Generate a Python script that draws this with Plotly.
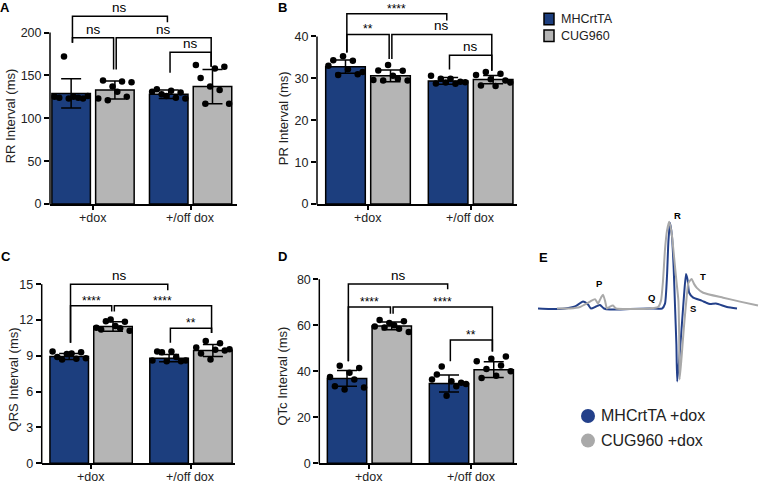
import plotly.graph_objects as go
import numpy as np

W, H = 759, 488
FONT = "Arial, 'Liberation Sans', Helvetica, sans-serif"
BLUE = "#1c3e7e"
GRAY = "#b5b5b5"
ECG_BLUE = "#23408a"
ECG_GRAY = "#a9a9a9"

# ---------------- data ----------------
group_labels = ["+dox", "+/off dox"]
genotypes = ["MHCrtTA", "CUG960"]
# bar order: MHCrtTA +dox, CUG960 +dox, MHCrtTA +/off dox, CUG960 +/off dox

rr_mean = [129, 133, 128, 137]
rr_sd = [17, 10.5, 5, 20]
rr_points = [
    [125, 124, 172, 123, 125, 124, 123, 126],
    [123, 144, 121, 137, 131, 143, 125, 142],
    [131, 134, 128, 126, 132, 124, 130, 123],
    [162, 147, 117, 137, 158, 133, 160, 117],
]
rr_ticks = [0, 50, 100, 150, 200]
rr_sig = [(0, 2, 219, 188, 212, "ns"), (0, 1, 194, 188, 157, "ns"),
          (1, 3, 194, 157, 160, "ns"), (2, 3, 177, 153, 160, "ns")]

pr_mean = [32.8, 30.6, 29.4, 29.7]
pr_sd = [1.6, 1.4, 0.8, 1.0]
pr_points = [
    [33.0, 34.3, 30.8, 35.3, 32.2, 34.2, 31.0, 31.5],
    [29.6, 31.9, 29.5, 33.2, 30.6, 29.9, 31.8, 29.5],
    [30.6, 28.8, 29.9, 29.0, 29.9, 28.7, 29.2, 29.1],
    [30.8, 28.3, 31.5, 29.8, 28.2, 31.1, 29.5, 29.0],
]
pr_ticks = [0, 10, 20, 30, 40]
pr_sig = [(0, 2, 45.4, 36.2, 43.8, "****"), (0, 1, 40.5, 36.2, 34.6, "**"),
          (1, 3, 40.5, 34.6, 31.8, "ns"), (2, 3, 35.5, 32.1, 31.8, "ns")]

qrs_mean = [8.95, 11.45, 8.8, 9.45]
qrs_sd = [0.25, 0.4, 0.3, 0.5]
qrs_points = [
    [9.35, 8.9, 8.7, 9.15, 9.2, 8.75, 9.3, 8.8],
    [11.35, 11.2, 11.9, 12.05, 11.5, 11.3, 11.85, 11.1],
    [8.6, 9.35, 9.3, 8.55, 9.35, 8.9, 8.55, 8.6],
    [9.7, 9.2, 10.25, 8.7, 9.5, 10.05, 9.45, 9.55],
]
qrs_ticks = [0, 3, 6, 9, 12, 15]
qrs_sig = [(0, 2, 15.0, 10.1, 14.5, "ns"), (0, 1, 13.2, 10.1, 12.7, "****"),
           (1, 3, 13.2, 12.7, 10.9, "****"), (2, 3, 11.3, 10.1, 10.9, "**")]

qtc_mean = [36.9, 59.7, 34.7, 40.7]
qtc_sd = [3.4, 1.7, 3.7, 3.4]
qtc_points = [
    [37.5, 33.5, 42.4, 32.1, 39.3, 36.4, 41.4, 32.9],
    [59.5, 62.3, 59.0, 61.0, 60.0, 58.5, 61.7, 57.1],
    [36.4, 38.6, 42.1, 29.3, 35.7, 33.5, 35.0, 34.5],
    [44.3, 37.1, 41.0, 45.4, 38.0, 42.5, 46.4, 40.0],
]
qtc_ticks = [0, 20, 40, 60, 80]
qtc_sig = [(0, 2, 77.9, 44.3, 75.7, "ns"), (0, 1, 67.9, 44.3, 65.0, "****"),
           (1, 3, 67.9, 65.0, 48.6, "****"), (2, 3, 53.6, 44.3, 48.6, "**")]

# ECG traces (time in ms, voltage in mV)
ecg_blue_t = [0, 3, 6.75, 9.25, 11.25, 12.5, 13.25, 14.5, 15.5, 16.5, 18, 23, 28, 31, 31.75, 32.25,
              32.6, 33, 33.5, 33.9, 34.25, 34.6, 34.8, 35.4, 35.9, 36.5, 37, 37.4, 37.8, 38.8,
              40.9, 42, 43, 44.5, 47.25, 49.75]
ecg_blue_v = [0, -0.005, 0, 0.02, 0.07, 0.04, 0, 0.02, 0.035, 0, -0.01, -0.005, 0, 0, 0.05, 0.33,
              0.68, 0.87, 0.73, 0.43, 0.03, -0.37, -0.74, -0.47, -0.20, 0.13, 0.35, 0.29, 0.16, 0.11,
              0.08, 0.06, 0.045, 0.05, 0.015, 0]
ecg_gray_t = [4.75, 8, 10.5, 13, 14.25, 15, 15.75, 16.25, 16.75, 17.25, 18, 18.75, 19.5, 23, 28, 30,
              30.75, 31.25, 31.75, 32.25, 32.8, 33.4, 34, 34.6, 35.1, 35.3, 35.4, 35.9, 36.5, 37.2,
              37.6, 38.4, 39, 39.7, 41.3, 46.3, 50.5, 55]
ecg_gray_v = [0, 0, 0.015, 0.07, 0.095, 0.05, 0.11, 0.14, 0.08, 0, 0.02, 0.03, 0, -0.005, 0, 0.015,
              0.08, 0.28, 0.60, 0.79, 0.88, 0.77, 0.53, 0.28, 0.08, -0.27, -0.72, -0.49, -0.18, 0.13,
              0.26, 0.30, 0.25, 0.21, 0.16, 0.11, 0.07, 0.03]
ecg_wave_labels = ["P", "Q", "R", "S", "T"]
ecg_wave_t = [15.25, 28.25, 34.75, 38.75, 41.25]
ecg_wave_v = [0.25, 0.11, 0.94, 0.0, 0.32]
ecg_legend = ["MHCrtTA +dox", "CUG960 +dox"]

# ---------------- layout helpers ----------------
panels = [
    dict(letter="A", mean=rr_mean, sd=rr_sd, pts=rr_points, ticks=rr_ticks, sig=rr_sig,
         title="RR Interval (ms)", xpx=(50, 237), ypx=(3, 207), top_px=33,
         pos=[0, 1, 2.23, 3.23], xr=(-0.483, 3.79), tpos=(10, 118), lpos=(5, 8)),
    dict(letter="B", mean=pr_mean, sd=pr_sd, pts=pr_points, ticks=pr_ticks, sig=pr_sig,
         title="PR Interval (ms)", xpx=(317, 517), ypx=(3, 207), top_px=37,
         pos=[0, 1, 2.28, 3.28], xr=(-0.633, 3.81), tpos=(283, 120), lpos=(282, 8)),
    dict(letter="C", mean=qrs_mean, sd=qrs_sd, pts=qrs_points, ticks=qrs_ticks, sig=qrs_sig,
         title="QRS Interval (ms)", xpx=(41.7, 235), ypx=(262, 470), top_px=288.3,
         pos=[0, 1, 2.28, 3.28], xr=(-0.628, 3.785), tpos=(13, 385), lpos=(6, 260)),
    dict(letter="D", mean=qtc_mean, sd=qtc_sd, pts=qtc_points, ticks=qtc_ticks, sig=qtc_sig,
         title="QTc Interval (ms)", xpx=(319.3, 517), ypx=(262, 470), top_px=283.3,
         pos=[0, 1, 2.28, 3.28], xr=(-0.62, 3.80), tpos=(283, 382), lpos=(282, 260)),
]


def px_x(px):
    return px / W


def px_y(py):
    return 1 - py / H


fig = go.Figure()
shapes = []
annotations = []
layout_axes = {}
offsets = np.linspace(-0.38, 0.38, 8)

for k, p in enumerate(panels):
    n = k + 1
    xa = "x" if n == 1 else f"x{n}"
    ya = "y" if n == 1 else f"y{n}"
    top_tick = p["ticks"][-1]
    ybot, ytopdom = p["ypx"][1], p["ypx"][0]
    yr_top = top_tick * (ybot - ytopdom) / (ybot - p["top_px"])
    pos = p["pos"]
    ydom = [px_y(ybot), px_y(ytopdom)]
    xdom = [px_x(p["xpx"][0]), px_x(p["xpx"][1])]

    for gi, (col, idx) in enumerate([(BLUE, [0, 2]), (GRAY, [1, 3])]):
        fig.add_trace(go.Bar(
            x=[pos[i] for i in idx], y=[p["mean"][i] for i in idx], width=0.88,
            marker=dict(color=col, line=dict(color="black", width=1.5)),
            error_y=dict(type="data", array=[p["sd"][i] for i in idx], color="black",
                         thickness=1.5, width=10),
            name=genotypes[gi], xaxis=xa, yaxis=ya, showlegend=False, hoverinfo="skip"))
    for i in range(4):
        fig.add_trace(go.Scatter(
            x=pos[i] + offsets[:len(p["pts"][i])], y=p["pts"][i], mode="markers",
            marker=dict(color="black", size=6.5), xaxis=xa, yaxis=ya,
            showlegend=False, hoverinfo="skip", cliponaxis=False))

    xkey = "xaxis" if n == 1 else f"xaxis{n}"
    ykey = "yaxis" if n == 1 else f"yaxis{n}"
    group_centers = [(pos[0] + pos[1]) / 2, (pos[2] + pos[3]) / 2]
    layout_axes[xkey] = dict(
        domain=xdom, range=list(p["xr"]), anchor=ya, showgrid=False, zeroline=False,
        showline=True, linecolor="black", linewidth=1.5, ticks="outside", ticklen=4,
        tickwidth=1.5, tickcolor="black", tickvals=group_centers, showticklabels=False,
        fixedrange=True)
    for gc, gl in zip(group_centers, group_labels):
        annotations.append(dict(x=gc, y=px_y(ybot + 5), xref=xa, yref="paper", text=gl,
                                showarrow=False, xanchor="center", yanchor="top",
                                font=dict(family=FONT, size=12.5, color="#222")))
    layout_axes[ykey] = dict(
        domain=ydom, range=[0, yr_top], anchor=xa, showgrid=False, zeroline=False,
        showline=False, ticks="outside", ticklen=5, tickwidth=1.5, tickcolor="black",
        tickvals=p["ticks"], ticktext=[str(t) for t in p["ticks"]],
        tickfont=dict(family=FONT, size=12.5, color="#222"), fixedrange=True)
    # y axis line only up to the top tick
    y_end = ydom[0] + (top_tick / yr_top) * (ydom[1] - ydom[0])
    shapes.append(dict(type="line", xref="paper", yref="paper", x0=xdom[0], x1=xdom[0],
                       y0=ydom[0] - 0.75 / H, y1=y_end, line=dict(color="black", width=1.5)))

    # significance brackets
    for (i1, i2, yy, d1, d2, lab) in p["sig"]:
        xl = pos[i1] + 0.03
        xrgt = pos[i2] - 0.03
        shapes.append(dict(type="path", xref=xa, yref=ya,
                           path=f"M {xl},{d1} L {xl},{yy} L {xrgt},{yy} L {xrgt},{d2}",
                           line=dict(color="black", width=1.5)))
        star = lab.startswith("*")
        annotations.append(dict(
            x=(pos[i1] + pos[i2]) / 2, y=yy, xref=xa, yref=ya, text=lab, showarrow=False,
            xanchor="center", yanchor="bottom", yshift=-4 if star else -1,
            font=dict(family=FONT, size=12 if star else 13.5, color="black")))

    annotations.append(dict(x=px_x(p["tpos"][0]), y=px_y(p["tpos"][1]), xref="paper", yref="paper",
                            text=p["title"], textangle=-90, showarrow=False,
                            xanchor="center", yanchor="middle",
                            font=dict(family=FONT, size=13, color="#222")))
    annotations.append(dict(x=px_x(p["lpos"][0]), y=px_y(p["lpos"][1]), xref="paper", yref="paper",
                            text=f"<b>{p['letter']}</b>", showarrow=False,
                            xanchor="center", yanchor="middle",
                            font=dict(family=FONT, size=13, color="black")))

# ECG panel E
fig.add_trace(go.Scatter(x=ecg_blue_t, y=ecg_blue_v, mode="lines", xaxis="x5", yaxis="y5",
                         line=dict(color=ECG_BLUE, width=2, shape="spline", smoothing=0.5),
                         showlegend=False, hoverinfo="skip"))
fig.add_trace(go.Scatter(x=ecg_gray_t, y=ecg_gray_v, mode="lines", xaxis="x5", yaxis="y5",
                         line=dict(color=ECG_GRAY, width=2, shape="spline", smoothing=0.5),
                         showlegend=False, hoverinfo="skip"))
layout_axes["xaxis5"] = dict(domain=[px_x(538), 1], range=[0, 55.25], visible=False,
                             anchor="y5", fixedrange=True)
layout_axes["yaxis5"] = dict(domain=[px_y(395), px_y(215)], range=[-0.82, 0.98], visible=False,
                             anchor="x5", fixedrange=True)
for lab, t, v in zip(ecg_wave_labels, ecg_wave_t, ecg_wave_v):
    annotations.append(dict(x=t, y=v, xref="x5", yref="y5", text=f"<b>{lab}</b>", showarrow=False,
                            xanchor="center", yanchor="middle",
                            font=dict(family=FONT, size=9.5, color="black")))
annotations.append(dict(x=px_x(543), y=px_y(261), xref="paper", yref="paper", text="<b>E</b>",
                        showarrow=False, xanchor="center", yanchor="middle",
                        font=dict(family=FONT, size=13, color="black")))

# ECG legend
for lab, col, cy in zip(ecg_legend, [ECG_BLUE, ECG_GRAY], [422, 447]):
    shapes.append(dict(type="circle", xref="paper", yref="paper", xsizemode="pixel",
                       ysizemode="pixel", xanchor=px_x(588), yanchor=px_y(cy),
                       x0=-7, x1=7, y0=-7, y1=7, fillcolor=col, line=dict(width=0)))
    annotations.append(dict(x=px_x(599), y=px_y(cy), xref="paper", yref="paper", text=lab,
                            showarrow=False, xanchor="left", yanchor="middle",
                            font=dict(family=FONT, size=16, color="#222")))

# top legend
for lab, col, (y0, y1) in zip(genotypes, [BLUE, GRAY], [(13.5, 25), (30.5, 42)]):
    shapes.append(dict(type="rect", xref="paper", yref="paper", x0=px_x(544), x1=px_x(554),
                       y0=px_y(y1), y1=px_y(y0), fillcolor=col, line=dict(color="black", width=1.5)))
    annotations.append(dict(x=px_x(559), y=px_y((y0 + y1) / 2), xref="paper", yref="paper",
                            text=lab, showarrow=False, xanchor="left", yanchor="middle",
                            font=dict(family=FONT, size=12.5, color="#222")))

fig.update_layout(
    width=W, height=H, margin=dict(l=0, r=0, t=0, b=0), paper_bgcolor="white",
    plot_bgcolor="white", barmode="overlay", showlegend=False, shapes=shapes,
    annotations=annotations, font=dict(family=FONT), **layout_axes)

fig.write_html("out.html", config={"displayModeBar": False},
               post_script="document.body.style.margin='0';document.body.style.padding='0';")
